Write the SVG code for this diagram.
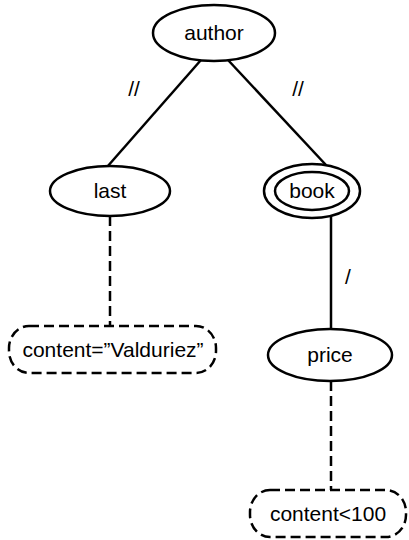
<svg xmlns="http://www.w3.org/2000/svg" width="409" height="540" viewBox="0 0 409 540">
<style>
.n{fill:#fff;stroke:#000;stroke-width:2.5}
.d{fill:#fff;stroke:#000;stroke-width:2.5;stroke-dasharray:10,5}
.e{stroke:#000;stroke-width:2.5;fill:none}
.de{stroke:#000;stroke-width:2.5;fill:none;stroke-dasharray:10,5}
text{font-family:"Liberation Sans",Arial,sans-serif;font-size:21px;fill:#000;text-anchor:middle}
</style>
<rect width="409" height="540" fill="#fff"/>
<g id="connectors">
<line class="e" x1="201" y1="60" x2="107" y2="167"/>
<line class="e" x1="228" y1="60" x2="326" y2="165"/>
<line class="e" x1="331" y1="216" x2="331" y2="329"/>
<line class="de" x1="110" y1="216" x2="110" y2="326"/>
<line class="de" x1="331" y1="381" x2="331" y2="490"/>
<text x="134" y="96">//</text>
<text x="298" y="96">//</text>
<text x="348" y="284">/</text>
</g>
<g id="author"><ellipse class="n" cx="214" cy="33" rx="61" ry="28"/><text x="214" y="40">author</text></g>
<g id="last"><ellipse class="n" cx="110" cy="191" rx="60" ry="25"/><text x="110" y="198">last</text></g>
<g id="book"><ellipse class="n" cx="312" cy="191" rx="48" ry="27"/><ellipse class="n" cx="312" cy="191" rx="37" ry="19"/><text x="312" y="198">book</text></g>
<g id="price"><ellipse class="n" cx="330" cy="355" rx="62" ry="26"/><text x="330" y="362">price</text></g>
<g id="content1"><rect class="d" x="9" y="326" width="207" height="47" rx="20" ry="22"/><text x="113" y="357">content=”Valduriez”</text></g>
<g id="content2"><rect class="d" x="250" y="490" width="156" height="47" rx="20" ry="22"/><text x="328" y="521">content&lt;100</text></g>
</svg>
